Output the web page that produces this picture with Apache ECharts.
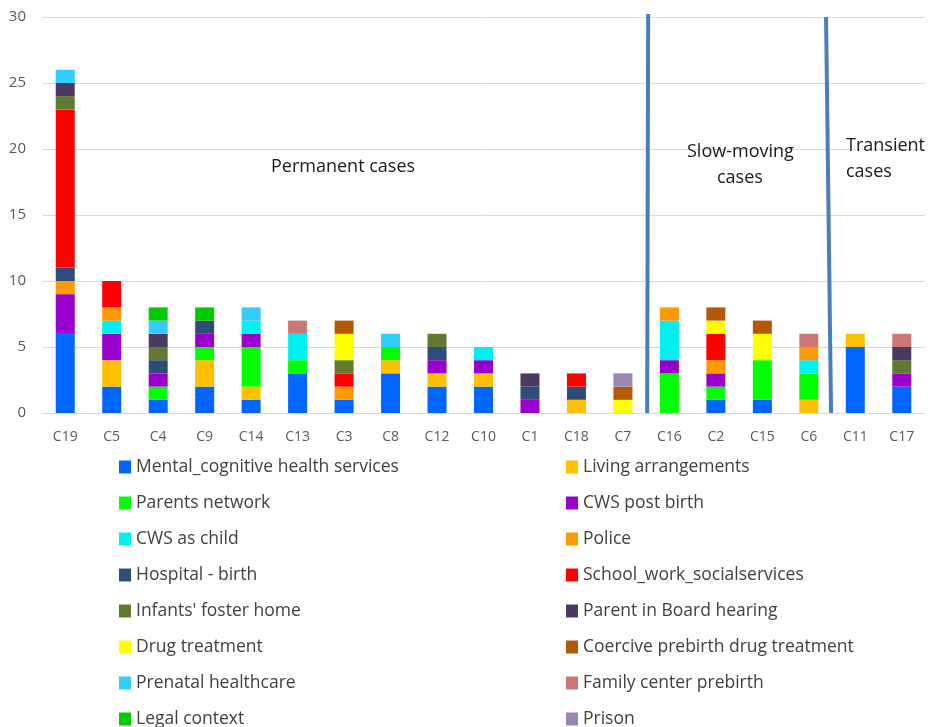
<!DOCTYPE html>
<html><head><meta charset="utf-8">
<script src="https://cdn.jsdelivr.net/npm/echarts@6/dist/echarts.min.js"></script>
<style>html,body{margin:0;padding:0;background:#fff}#c{width:930px;height:727px}</style>
</head><body><div id="c"></div>
<script>
const categories = ['C19','C5','C4','C9','C14','C13','C3','C8','C12','C10','C1','C18','C7','C16','C2','C15','C6','C11','C17'];
const mentalCognitive = [6,2,1,2,1,3,1,3,2,2,0,0,0,0,1,1,0,5,2];
const livingArrangements = [0,2,0,2,1,0,0,1,1,1,0,1,0,0,0,0,1,1,0];
const parentsNetwork = [0,0,1,1,3,1,0,1,0,0,0,0,0,3,1,3,2,0,0];
const cwsPostBirth = [3,2,1,1,1,0,0,0,1,1,1,0,0,1,1,0,0,0,1];
const cwsAsChild = [0,1,0,0,1,2,0,0,0,1,0,0,0,3,0,0,1,0,0];
const police = [1,1,0,0,0,0,1,0,0,0,0,0,0,1,1,0,1,0,0];
const hospitalBirth = [1,0,1,1,0,0,0,0,1,0,1,1,0,0,0,0,0,0,0];
const schoolWork = [12,2,0,0,0,0,1,0,0,0,0,1,0,0,2,0,0,0,0];
const infantsFoster = [1,0,1,0,0,0,1,0,1,0,0,0,0,0,0,0,0,0,1];
const parentBoard = [1,0,1,0,0,0,0,0,0,0,1,0,0,0,0,0,0,0,1];
const drugTreatment = [0,0,0,0,0,0,2,0,0,0,0,0,1,0,1,2,0,0,0];
const coercivePrebirth = [0,0,0,0,0,0,1,0,0,0,0,0,1,0,1,1,0,0,0];
const prenatalHealthcare = [1,0,1,0,1,0,0,1,0,0,0,0,0,0,0,0,0,0,0];
const familyCenter = [0,0,0,0,0,1,0,0,0,0,0,0,0,0,0,0,1,0,1];
const legalContext = [0,0,1,1,0,0,0,0,0,0,0,0,0,0,0,0,0,0,0];
const prison = [0,0,0,0,0,0,0,0,0,0,0,0,1,0,0,0,0,0,0];
const yTicks = [0,5,10,15,20,25,30];

const seriesDefs = [
  ['Mental_cognitive health services', mentalCognitive, '#0066FF'],
  ['Living arrangements', livingArrangements, '#FFC000'],
  ['Parents network', parentsNetwork, '#00FF00'],
  ['CWS post birth', cwsPostBirth, '#9900CC'],
  ['CWS as child', cwsAsChild, '#00F0F0'],
  ['Police', police, '#FF9900'],
  ['Hospital - birth', hospitalBirth, '#2E4D7B'],
  ['School_work_socialservices', schoolWork, '#FF0000'],
  ["Infants' foster home", infantsFoster, '#617A2F'],
  ['Parent in Board hearing', parentBoard, '#4B3A63'],
  ['Drug treatment', drugTreatment, '#FFFF00'],
  ['Coercive prebirth drug treatment', coercivePrebirth, '#B35806'],
  ['Prenatal healthcare', prenatalHealthcare, '#33CCFF'],
  ['Family center prebirth', familyCenter, '#CC7777'],
  ['Legal context', legalContext, '#00CC00'],
  ['Prison', prison, '#9B85B7']
];

const FONT = "'Open Sans', sans-serif";
const chart = echarts.init(document.getElementById('c'));
const legendBase = {
  orient: 'vertical', icon: 'rect', itemWidth: 12, itemHeight: 13, itemGap: 16,
  textStyle: {fontFamily: FONT, fontSize: 17.5, color: '#404040', lineHeight: 20},
  top: 457, height: 400, padding: 0
};
chart.setOption({
  animation: false,
  backgroundColor: '#fff',
  grid: {left: 42, right: 5, top: 17, bottom: 314, containLabel: false},
  xAxis: {
    type: 'category', data: categories,
    axisLine: {lineStyle: {color: '#D9D9D9', width: 1}},
    axisTick: {show: false},
    axisLabel: {fontFamily: FONT, fontSize: 14, color: '#595959', margin: 17}
  },
  yAxis: {
    type: 'value', min: yTicks[0], max: yTicks[yTicks.length-1], interval: 5,
    axisLine: {show: false}, axisTick: {show: false},
    splitLine: {lineStyle: {color: '#D9D9D9', width: 1}},
    axisLabel: {fontFamily: FONT, fontSize: 15, color: '#595959', margin: 16}
  },
  legend: [
    Object.assign({}, legendBase, {left: 119, data: seriesDefs.filter((d,i)=>i%2===0).map(d=>d[0])}),
    Object.assign({}, legendBase, {left: 566, data: seriesDefs.filter((d,i)=>i%2===1).map(d=>d[0])})
  ],
  series: seriesDefs.map(d => ({
    name: d[0], type: 'bar', stack: 'total', data: d[1], barWidth: 19,
    itemStyle: {color: d[2]}
  }))
});

function drawOverlays() {
  const p = (i, v) => chart.convertToPixel({gridIndex: 0}, [i, v]);
  const x1 = (p(12, 0)[0] + p(13, 0)[0]) / 2 + 1;
  const x2 = (p(16, 0)[0] + p(17, 0)[0]) / 2 - 3;
  const y0 = p(0, 0)[1];
  const yTop = p(0, 30)[1] - 3;
  const lineStyle = {stroke: '#4A7EBB', lineWidth: 4};
  const ts = {fontFamily: FONT, fontSize: 18, fill: '#1a1a1a', lineHeight: 26};
  chart.setOption({graphic: [
    {type: 'line', shape: {x1: x1 + 1, y1: yTop, x2: x1, y2: y0}, style: lineStyle, z: 10},
    {type: 'line', shape: {x1: x2 - 3, y1: yTop + 3, x2: x2 + 2, y2: y0}, style: lineStyle, z: 10},
    {type: 'text', left: 271, top: 154, style: Object.assign({text: 'Permanent cases'}, ts)},
    {type: 'text', left: 687, top: 139, style: Object.assign({text: 'Slow-moving'}, ts)},
    {type: 'text', left: 717, top: 165, style: Object.assign({text: 'cases'}, ts)},
    {type: 'text', left: 846, top: 133, style: Object.assign({text: 'Transient\ncases'}, ts)}
  ]});
}
drawOverlays();
</script></body></html>
